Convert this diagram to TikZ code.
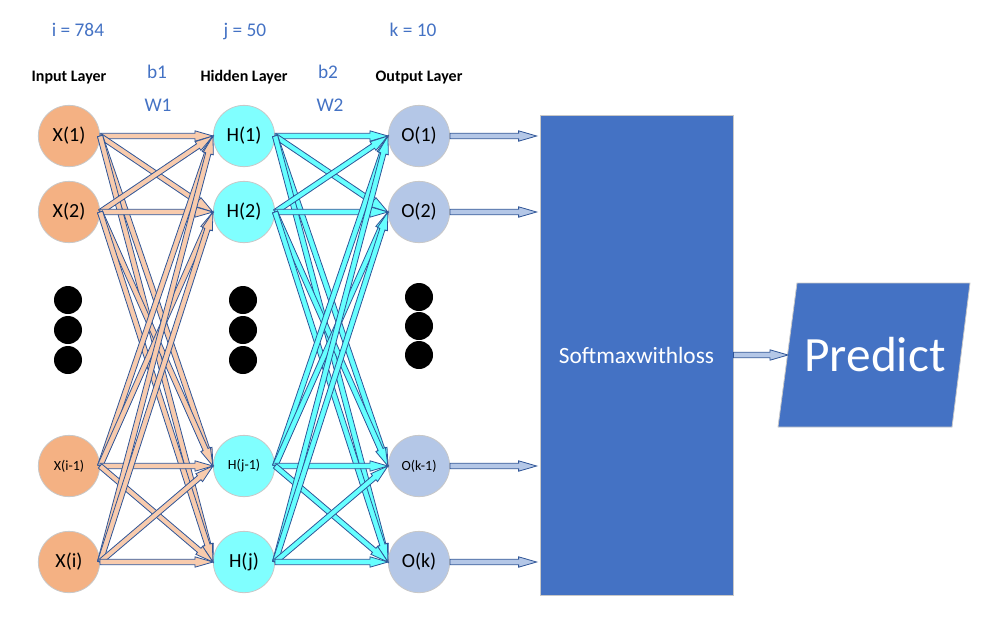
\documentclass[tikz,border=0pt]{standalone}
\usepackage{fontspec}
\setmainfont{Carlito}
\usetikzlibrary{calc}
\definecolor{peach}{HTML}{F4B183}
\definecolor{peachA}{HTML}{F8CBAD}
\definecolor{cyanN}{HTML}{80FFFF}
\definecolor{cyanA}{HTML}{66FFFF}
\definecolor{outN}{HTML}{B4C7E7}
\definecolor{edgeB}{HTML}{2F5597}
\definecolor{accent}{HTML}{4472C4}
\definecolor{ring}{HTML}{C8C8C8}
\newcommand\blockarrow[3]{%
  \coordinate (ba1) at (#1);
  \coordinate (ba2) at (#2);
  \coordinate (bh) at ($(ba2)!13.5pt!(ba1)$);
  \filldraw[draw=edgeB, fill=#3, line width=0.6pt, line join=miter]
    ($(ba1)!2pt!90:(ba2)$) -- ($(bh)!2pt!90:(ba2)$) -- ($(bh)!3.9pt!90:(ba2)$)
    -- (ba2) -- ($(bh)!3.9pt!-90:(ba2)$) -- ($(bh)!2pt!-90:(ba2)$)
    -- ($(ba1)!2pt!-90:(ba2)$) -- cycle;}
\tikzset{
  neuron/.style={circle, draw=ring, line width=0.6pt, minimum size=46pt, inner sep=0pt, font=\fontsize{15}{18}\selectfont},
  small/.style={font=\fontsize{10.5}{12}\selectfont},
  dotn/.style={circle, fill=black, minimum size=21pt, inner sep=0pt},
  lbl/.style={text=accent, font=\fontsize{14.5}{17}\selectfont, inner sep=0pt, anchor=base},
  layer/.style={font=\fontsize{12}{14}\selectfont\bfseries, inner sep=0pt, anchor=base},
}
\begin{document}
\begin{tikzpicture}[x=0.75pt, y=-0.75pt]
\useasboundingbox (0,0) rectangle (989,618);
% labels
\node[lbl] (li) at (78,36.5) {i = 784};
\node[lbl] (lj) at (245,36.5) {j = 50};
\node[lbl] (lk) at (413,36.5) {k = 10};
\node[layer] (lin) at (69,81.5) {Input Layer};
\node[layer] (lhid) at (244,81.5) {Hidden Layer};
\node[layer] (lout) at (419,81.5) {Output Layer};
\node[lbl] (b1) at (157,78) {b1};
\node[lbl] (w1) at (158,111.5) {W1};
\node[lbl] (b2) at (328,78) {b2};
\node[lbl] (w2) at (330,111.5) {W2};
% input layer
\node[neuron, fill=peach] (x1) at (69,136) {X(1)};
\node[neuron, fill=peach] (x2) at (69,212) {X(2)};
\node[neuron, fill=peach, small] (x3) at (69,466) {X(i-1)};
\node[neuron, fill=peach] (x4) at (69,562) {X(i)};
% hidden layer
\node[neuron, fill=cyanN] (h1) at (244,136) {H(1)};
\node[neuron, fill=cyanN] (h2) at (244,212) {H(2)};
\node[neuron, fill=cyanN, small] (h3) at (244,466) {H(j-1)};
\node[neuron, fill=cyanN] (h4) at (244,562) {H(j)};
% output layer
\node[neuron, fill=outN] (o1) at (419,136) {O(1)};
\node[neuron, fill=outN] (o2) at (419,212) {O(2)};
\node[neuron, fill=outN, small] (o3) at (419,466) {O(k-1)};
\node[neuron, fill=outN] (o4) at (419,562) {O(k)};
% dots
\node[dotn] (dx1) at (68,300) {};
\node[dotn] (dx2) at (68,330) {};
\node[dotn] (dx3) at (68,360) {};
\node[dotn] (dh1) at (243,300) {};
\node[dotn] (dh2) at (243,330) {};
\node[dotn] (dh3) at (243,360) {};
\node[dotn] (do1) at (419,297) {};
\node[dotn] (do2) at (419,326) {};
\node[dotn] (do3) at (419,355) {};
% softmax
\node[draw=ring, fill=accent, line width=0.6pt, minimum width=144.75pt, minimum height=360pt, inner sep=0pt,
      text=white, font=\fontsize{17.5}{20}\selectfont] (sm) at (636.5,355) {Softmaxwithloss};
% predict
\path[draw=ring, fill=accent, line width=0.6pt] (797,283) -- (970,283) -- (952,427) -- (778,427) -- cycle;
\node[text=white, font=\fontsize{37}{44}\selectfont, inner sep=0pt] (pred) at (875,355) {Predict};
\coordinate (predL) at (788,355);
% arrows input -> hidden
\foreach \a in {x1,x2,x3,x4}{
  \foreach \b in {h1,h2,h3,h4}{
    \blockarrow{\a.east}{\b.west}{peachA}
  }
}
% arrows hidden -> output
\foreach \a in {h1,h2,h3,h4}{
  \foreach \b in {o1,o2,o3,o4}{
    \blockarrow{\a.east}{\b.west}{cyanA}
  }
}
% output -> softmax
\foreach \a in {o1,o2,o3,o4}{
  \coordinate (\a t) at ($(\a.east -| sm.west)+(-3,0)$);
  \blockarrow{\a.east}{\a t}{outN}
}
\blockarrow{sm.east}{predL}{outN}
\end{tikzpicture}
\end{document}
